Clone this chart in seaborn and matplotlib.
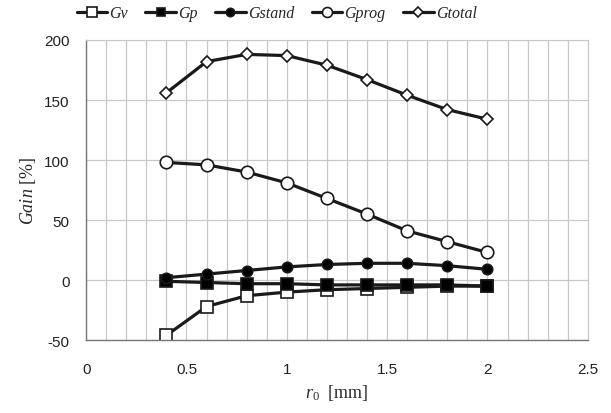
import pandas as pd
import matplotlib
matplotlib.use("Agg")
import matplotlib.pyplot as plt
from matplotlib.ticker import MultipleLocator
import seaborn as sns

# datos
r0 = [0.4, 0.6, 0.8, 1.0, 1.2, 1.4, 1.6, 1.8, 2.0]
gv = [-46, -22, -13, -10, -8, -7, -6, -5, -5]
gp = [-1, -2, -3, -3, -4, -4, -4, -4, -5]
gstand = [2, 5, 8, 11, 13, 14, 14, 12, 9]
gprog = [98, 96, 90, 81, 68, 55, 41, 32, 23]
gtotal = [156, 182, 188, 187, 179, 167, 154, 142, 134]

series = ["Gv", "Gp", "Gstand", "Gprog", "Gtotal"]
valores = [gv, gp, gstand, gprog, gtotal]
marcadores = {"Gv": "s", "Gp": "s", "Gstand": "o", "Gprog": "o", "Gtotal": "D"}
relleno = {"Gv": "white", "Gp": "black", "Gstand": "black", "Gprog": "white", "Gtotal": "white"}
tam = {"Gv": 8.5, "Gp": 8, "Gstand": 7.5, "Gprog": 9, "Gtotal": 6}

sns.set_style("white")
plt.rcParams["font.family"] = ["Liberation Sans", "DejaVu Sans"]
plt.rcParams["axes.unicode_minus"] = False
plt.rcParams["mathtext.fontset"] = "custom"
plt.rcParams["mathtext.rm"] = "Liberation Serif"
plt.rcParams["mathtext.it"] = "Liberation Serif:italic"

fig = plt.figure(figsize=(6.11, 4.14), dpi=100)
ax = fig.add_axes([0.141, 0.176, 0.821, 0.725])

for nombre, vals in zip(series, valores):
    df = pd.DataFrame({"r0": r0, "gain": vals})
    sns.lineplot(data=df, x="r0", y="gain", ax=ax, color="#1a1a1a", linewidth=2.3,
                 marker=marcadores[nombre], markersize=tam[nombre],
                 markerfacecolor=relleno[nombre], markeredgecolor="#1a1a1a",
                 markeredgewidth=1.2, label=nombre)

ax.set_xlim(0, 2.5)
ax.set_ylim(-50, 200)
ax.xaxis.set_minor_locator(MultipleLocator(0.1))
ax.yaxis.set_major_locator(MultipleLocator(50))
ax.set_xticks([0, 0.5, 1, 1.5, 2, 2.5])
ax.set_xticklabels(["0", "0.5", "1", "1.5", "2", "2.5"])
ax.grid(True, which="both", axis="x", color="#c8c8c8", linewidth=0.9)
ax.grid(True, which="major", axis="y", color="#c8c8c8", linewidth=0.9)
ax.tick_params(axis="both", which="both", direction="out", length=4, color="#777777",
               labelsize=11, colors="#222222", pad=8)
ax.tick_params(axis="x", which="major", pad=12)
for lado in ["top", "right"]:
    ax.spines[lado].set_color("#c8c8c8")
for lado in ["left", "bottom"]:
    ax.spines[lado].set_color("#777777")
    ax.spines[lado].set_linewidth(1.0)

ax.set_xlabel(r"$r_0$  [mm]", fontsize=13, family=["Liberation Serif", "DejaVu Serif"])
ax.set_ylabel(r"$\mathit{Gain}$ [%]", fontsize=13, family=["Liberation Serif", "DejaVu Serif"])
ax.xaxis.set_label_coords(0.5, -0.14)

leg = ax.legend(loc="lower center", bbox_to_anchor=(0.38, 1.015), ncol=5, frameon=False,
                handlelength=1.9, handletextpad=0.15, columnspacing=1.1, markerscale=0.8,
                prop={"family": ["Liberation Serif", "DejaVu Serif"], "style": "italic", "size": 11.5})

fig.savefig("out.png", dpi=100)
